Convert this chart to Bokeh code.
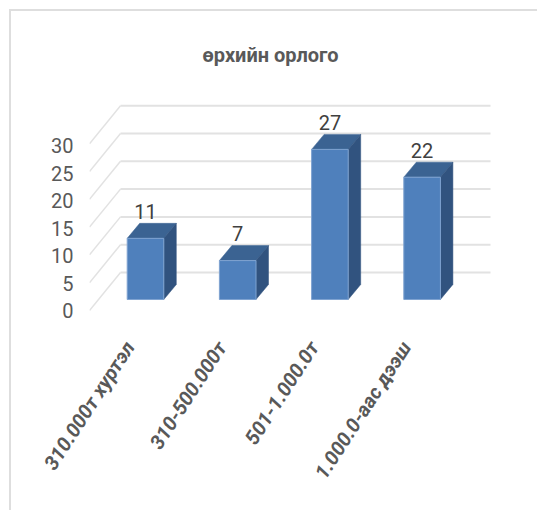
from bokeh.embed import file_html
from bokeh.resources import INLINE
from bokeh.plotting import figure
from bokeh.models import LinearAxis, Range1d, FixedTicker, Title
from bokeh.core.properties import value
import math

title_text = "өрхийн орлого"
categories = ["310.000т хуртэл", "310-500.000т", "501-1.000.0т", "1.000.0-аас дээш"]
counts = [11, 7, 27, 22]
y_ticks = [0, 5, 10, 15, 20, 25, 30]

FONT = "Roboto"
FRONT, TOP, SIDE = "#4f80bc", "#3b6392", "#31537f"
GRID = "#e2e2e2"

# page geometry of the plot area
W, H, M = 528, 501, 11
fl, fr, ft, fb = 89, 495, 90, 325      # frame edges in page pixels
base_y, unit_y = 299, 5.56             # bars' floor and px per value
x0, unit_x = 145, 92.2                 # first bar centre and px per category
axis_y, axis_unit = 310, 5.5
label_shift = 16                       # category labels sit left of the bars

p = figure(width=W, height=H, output_backend="svg", toolbar_location=None,
           x_range=Range1d((fl - x0) / unit_x, (fr - x0) / unit_x),
           y_range=Range1d((base_y - fb) / unit_y, (base_y - ft) / unit_y),
           min_border_left=fl - 11, min_border_right=W + 11 - fr,
           min_border_top=ft - 11, min_border_bottom=H + 11 - fb,
           outline_line_color=None, x_axis_location=None, y_axis_location=None)
p.margin = (M, 0, 0, M)
p.styles = {"box-shadow": "-2px -2px 0 0 #dedede"}
p.grid.visible = False

p.title = Title(text=title_text, text_font=FONT, text_font_size="20px", text_font_style="bold",
                text_color="#595959", align="left", offset=202 - fl, standoff=47)

# walls: back plane and diagonals to the front plane
bar_half = 18.3 / unit_x
wall_dx = 31 / unit_x
wall_back = 27 / unit_y
wall_front = -11 / unit_y
xl = -(x0 - 120) / unit_x
xr = (490 - x0) / unit_x
p.segment([xl] * len(y_ticks), [v + wall_back for v in y_ticks],
          [xr] * len(y_ticks), [v + wall_back for v in y_ticks],
          line_color=GRID, line_width=2)
p.segment([xl] * len(y_ticks), [v + wall_back for v in y_ticks],
          [xl - wall_dx] * len(y_ticks), [v + wall_front for v in y_ticks],
          line_color=GRID, line_width=1.5)

# 3-D bars
dx, dy = 12.5 / unit_x, 15 / unit_y
xs = list(range(len(counts)))
p.patches([[x - bar_half, x + bar_half, x + bar_half + dx, x - bar_half + dx] for x in xs],
          [[v, v, v + dy, v + dy] for v in counts], fill_color=TOP, line_color=TOP, line_width=0.5)
p.patches([[x + bar_half, x + bar_half + dx, x + bar_half + dx, x + bar_half] for x in xs],
          [[0, dy, v + dy, v] for v in counts], fill_color=SIDE, line_color=SIDE, line_width=0.5)
p.quad(left=[x - bar_half for x in xs], right=[x + bar_half for x in xs],
       bottom=[0] * len(xs), top=counts, fill_color=FRONT, line_color="#7fa3d1", line_width=1)

p.text(xs, counts, text=[str(v) for v in counts], text_font=value(FONT),
       text_font_size="20px", text_color="#404040", text_align="center",
       text_baseline="middle", y_offset=-27)

# axes
p.extra_y_ranges = {"front": Range1d((axis_y - fb) / axis_unit, (axis_y - ft) / axis_unit)}
ya = LinearAxis(y_range_name="front", ticker=FixedTicker(ticks=y_ticks))
ya.axis_line_color = None
ya.major_tick_line_color = None
ya.minor_tick_line_color = None
ya.major_tick_out = 0
ya.major_label_standoff = 16
ya.major_label_text_font = FONT
ya.major_label_text_font_size = "20px"
ya.major_label_text_color = "#595959"
p.add_layout(ya, "left")

p.extra_x_ranges = {"labels": Range1d((fl - x0 + label_shift) / unit_x, (fr - x0 + label_shift) / unit_x)}
xa = LinearAxis(x_range_name="labels", ticker=FixedTicker(ticks=xs),
                major_label_overrides={i: c for i, c in enumerate(categories)})
xa.axis_line_color = None
xa.major_tick_line_color = None
xa.minor_tick_line_color = None
xa.major_tick_out = 0
xa.major_label_orientation = math.radians(57)
xa.major_label_standoff = 18
xa.major_label_text_font = FONT
xa.major_label_text_font_size = "20px"
xa.major_label_text_font_style = "bold italic"
xa.major_label_text_color = "#595959"
p.add_layout(xa, "below")

open("out.html", "w").write(file_html(p, INLINE))
